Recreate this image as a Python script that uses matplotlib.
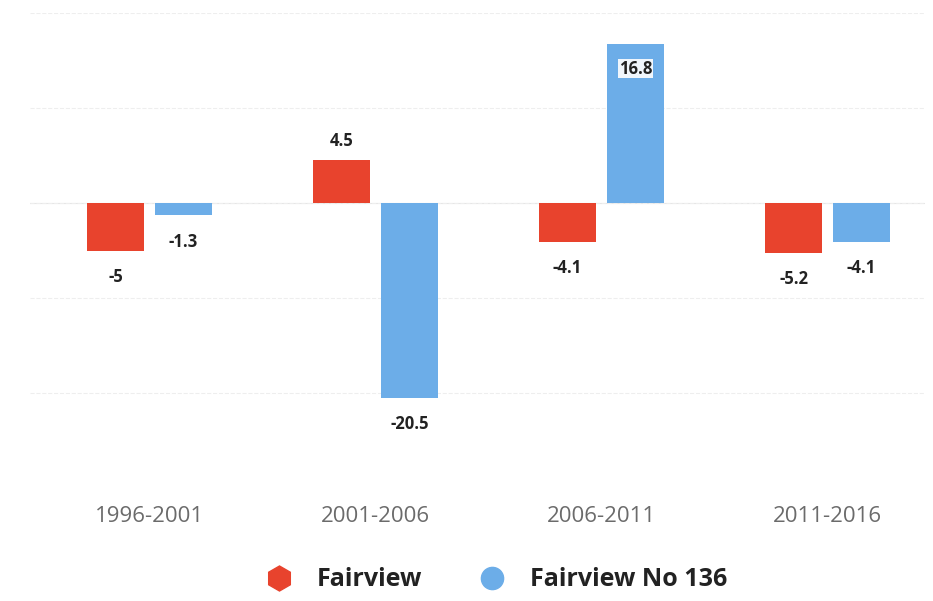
import matplotlib
matplotlib.use("Agg")
import matplotlib.pyplot as plt
import numpy as np
from matplotlib.lines import Line2D

periods = ["1996-2001", "2001-2006", "2006-2011", "2011-2016"]
fairview = [-5, 4.5, -4.1, -5.2]
fairview_no136 = [-1.3, -20.5, 16.8, -4.1]
series_names = ["Fairview", "Fairview No 136"]

RED = "#E8432D"
BLUE = "#6CADE8"

plt.rcParams["font.family"] = ["Open Sans", "DejaVu Sans"]

fig = plt.figure(figsize=(9.33, 6.01), dpi=100)
ax = fig.add_axes([0.032, 0.188, 0.959, 0.790])

x = np.arange(len(periods))
width = 0.25
offset = 0.15

ax.bar(x - offset, fairview, width=width, color=RED, zorder=3)
ax.bar(x + offset, fairview_no136, width=width, color=BLUE, zorder=3)

ylo, yhi = -30, 20
ax.set_ylim(ylo, yhi)
ax.set_xlim(-0.53, 3.43)


def add_labels(xs, vals):
    for xi, v in zip(xs, vals):
        label = f"{v:g}"
        kw = dict(textcoords="offset points", ha="center", va="center",
                  fontsize=12, fontweight="bold", color="#222222", zorder=5)
        if v > yhi - 4:
            ax.annotate(label, (xi, v), xytext=(0, -18), **kw,
                        bbox=dict(boxstyle="square,pad=0.05", fc="white", ec="none", alpha=0.9))
        elif v >= 0:
            ax.annotate(label, (xi, v), xytext=(0, 14), **kw)
        else:
            ax.annotate(label, (xi, v), xytext=(0, -19), **kw)


add_labels(x - offset, fairview)
add_labels(x + offset, fairview_no136)

ax.set_yticks([-20, -10, 0, 10, 20])
ax.yaxis.grid(True, color="#eeeeee", linestyle="--", linewidth=0.8, zorder=0)
ax.axhline(0, color="#e6e6e6", linewidth=0.8, zorder=1)
ax.set_yticklabels([])
ax.tick_params(axis="y", length=0)

ax.set_xticks(x)
ax.set_xticklabels(periods, fontsize=16, color="#6b6b6b")
ax.tick_params(axis="x", length=0, pad=13)

for s in ax.spines.values():
    s.set_visible(False)

handles = [
    Line2D([], [], marker="h", linestyle="none", markersize=18, color=RED),
    Line2D([], [], marker="o", linestyle="none", markersize=16, color=BLUE),
]
leg = fig.legend(handles, series_names, loc="center", bbox_to_anchor=(0.526, 0.035),
                 ncol=2, frameon=False, handletextpad=0.5, columnspacing=1.8,
                 prop={"size": 18, "weight": "bold"})
for t in leg.get_texts():
    t.set_color("#222222")

fig.savefig("out.png", dpi=100, facecolor="white")
